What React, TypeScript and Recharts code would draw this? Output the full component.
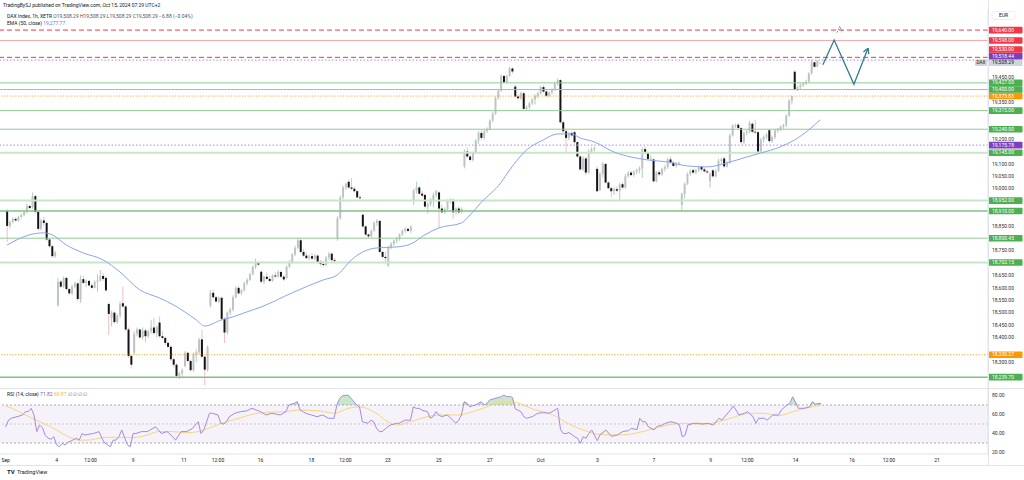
import React from 'react';
import {
  ComposedChart,
  Bar,
  Line,
  Area,
  XAxis,
  YAxis,
  ReferenceLine,
  ReferenceArea,
} from 'recharts';

type Ohlc = [number, number, number, number];

// DAX Index 1h (XETR), open / high / low / close per bar
const sep02to06: Ohlc[] = [
  [18910, 18918, 18785, 18850], [18850, 18872, 18840, 18866], [18866, 18885, 18860, 18878],
  [18878, 18884, 18868, 18872], [18872, 18890, 18866, 18886], [18886, 18900, 18880, 18894],
  [18894, 18912, 18888, 18906], [18906, 18940, 18900, 18930], [18930, 18935, 18918, 18922],
  [18925, 18985, 18920, 18970], [18970, 18975, 18900, 18906], [18906, 18912, 18830, 18838],
  [18838, 18880, 18832, 18872], [18872, 18885, 18850, 18862], [18862, 18868, 18790, 18795],
  [18795, 18800, 18762, 18768], [18768, 18775, 18722, 18728], [18728, 18750, 18720, 18742],
  [18530, 18640, 18525, 18625], [18625, 18632, 18600, 18605], [18605, 18645, 18598, 18640],
  [18640, 18645, 18590, 18595], [18595, 18600, 18570, 18578], [18578, 18612, 18572, 18605],
  [18605, 18625, 18598, 18618], [18618, 18622, 18545, 18555], [18552, 18650, 18540, 18635],
  [18635, 18648, 18615, 18620], [18620, 18634, 18604, 18628], [18628, 18632, 18605, 18610],
  [18610, 18618, 18596, 18600], [18600, 18630, 18598, 18625], [18625, 18655, 18585, 18630],
  [18630, 18672, 18625, 18648], [18648, 18660, 18628, 18636], [18640, 18648, 18585, 18590],
  [18535, 18540, 18410, 18495], [18480, 18508, 18445, 18500], [18500, 18505, 18455, 18462],
  [18462, 18495, 18455, 18488], [18488, 18545, 18480, 18535], [18538, 18605, 18520, 18525],
  [18525, 18530, 18425, 18432], [18432, 18440, 18318, 18325], [18325, 18330, 18275, 18290],
];

const sep09to13: Ohlc[] = [
  [18338, 18425, 18330, 18415], [18415, 18440, 18405, 18432], [18432, 18436, 18395, 18400],
  [18400, 18440, 18392, 18428], [18428, 18436, 18380, 18405], [18405, 18432, 18398, 18425],
  [18425, 18470, 18415, 18440], [18440, 18480, 18410, 18418], [18418, 18448, 18400, 18443],
  [18460, 18485, 18400, 18405], [18405, 18425, 18392, 18398], [18398, 18402, 18370, 18378],
  [18378, 18382, 18358, 18362], [18362, 18368, 18305, 18312], [18312, 18318, 18280, 18290],
  [18290, 18295, 18235, 18245], [18245, 18262, 18232, 18255], [18255, 18275, 18240, 18268],
  [18285, 18345, 18280, 18338], [18338, 18342, 18300, 18305], [18305, 18310, 18262, 18268],
  [18268, 18340, 18262, 18330], [18330, 18352, 18300, 18340], [18340, 18398, 18330, 18392],
  [18392, 18432, 18318, 18322], [18322, 18330, 18208, 18270], [18270, 18368, 18262, 18360],
  [18528, 18590, 18520, 18580], [18580, 18592, 18556, 18562], [18562, 18568, 18540, 18545],
  [18545, 18566, 18538, 18560], [18560, 18565, 18468, 18475], [18475, 18480, 18378, 18420],
  [18420, 18505, 18412, 18500], [18500, 18520, 18490, 18512], [18512, 18570, 18505, 18562],
  [18562, 18606, 18558, 18600], [18600, 18606, 18572, 18578], [18578, 18595, 18570, 18590],
  [18590, 18625, 18585, 18618], [18618, 18640, 18610, 18632], [18632, 18660, 18628, 18655],
  [18655, 18690, 18650, 18685], [18685, 18718, 18676, 18700], [18700, 18706, 18688, 18694],
];

const sep16to20: Ohlc[] = [
  [18665, 18670, 18618, 18625], [18625, 18650, 18615, 18645], [18645, 18662, 18630, 18636],
  [18636, 18648, 18622, 18628], [18628, 18655, 18625, 18650], [18650, 18665, 18640, 18646],
  [18646, 18672, 18640, 18664], [18664, 18670, 18640, 18645], [18645, 18652, 18628, 18634],
  [18640, 18690, 18636, 18685], [18685, 18712, 18680, 18705], [18705, 18740, 18698, 18735],
  [18735, 18770, 18728, 18762], [18762, 18800, 18755, 18792], [18792, 18802, 18740, 18745],
  [18745, 18758, 18725, 18730], [18730, 18742, 18715, 18720], [18720, 18735, 18712, 18726],
  [18728, 18740, 18712, 18718], [18718, 18736, 18712, 18730], [18730, 18734, 18700, 18705],
  [18705, 18712, 18690, 18696], [18696, 18710, 18685, 18692], [18692, 18728, 18688, 18722],
  [18722, 18745, 18712, 18738], [18738, 18742, 18705, 18712], [18712, 18722, 18698, 18711],
  [18800, 18890, 18790, 18880], [18880, 18972, 18875, 18965], [18965, 19012, 18958, 19005],
  [19005, 19025, 18995, 19020], [19028, 19036, 19000, 19005], [19005, 19043, 18995, 19000],
  [19000, 19008, 18985, 18990], [18990, 18995, 18960, 18965], [18965, 18975, 18950, 18962],
  [18895, 18900, 18842, 18848], [18848, 18852, 18810, 18815], [18815, 18820, 18800, 18808],
  [18808, 18836, 18804, 18830], [18830, 18868, 18826, 18862], [18862, 18878, 18850, 18870],
  [18870, 18875, 18740, 18745], [18745, 18750, 18718, 18725], [18725, 18745, 18700, 18720],
];

const sep23to27: Ohlc[] = [
  [18690, 18770, 18684, 18762], [18762, 18785, 18755, 18778], [18778, 18795, 18768, 18790],
  [18790, 18805, 18780, 18798], [18798, 18820, 18790, 18815], [18815, 18836, 18810, 18830],
  [18830, 18845, 18822, 18838], [18838, 18842, 18825, 18830], [18830, 18852, 18822, 18846],
  [18955, 19000, 18935, 18992], [18992, 19028, 18980, 19005], [19005, 19010, 18975, 18980],
  [18980, 18992, 18966, 18972], [18975, 18980, 18920, 18928], [18928, 18945, 18900, 18938],
  [18938, 18962, 18930, 18955], [18955, 18985, 18925, 18975], [18975, 18995, 18965, 18990],
  [18985, 18990, 18842, 18920], [18920, 18935, 18900, 18905], [18905, 18925, 18898, 18918],
  [18918, 18958, 18912, 18950], [18950, 18962, 18940, 18955], [18955, 18960, 18880, 18905],
  [18905, 18925, 18895, 18920], [18920, 18930, 18898, 18905], [18905, 18925, 18900, 18918],
  [19090, 19160, 19082, 19150], [19150, 19168, 19125, 19130], [19130, 19138, 19110, 19116],
  [19116, 19150, 19110, 19145], [19145, 19200, 19140, 19195], [19195, 19232, 19180, 19225],
  [19225, 19235, 19195, 19205], [19205, 19240, 19198, 19232], [19232, 19248, 19225, 19238],
  [19240, 19280, 19235, 19275], [19275, 19310, 19268, 19302], [19302, 19372, 19298, 19365],
  [19365, 19400, 19360, 19395], [19395, 19462, 19390, 19455], [19455, 19460, 19425, 19430],
  [19430, 19460, 19425, 19455], [19455, 19492, 19450, 19485], [19485, 19490, 19465, 19473],
];

const sep30toOct04: Ohlc[] = [
  [19412, 19420, 19368, 19372], [19372, 19380, 19360, 19365], [19365, 19392, 19358, 19385],
  [19385, 19390, 19318, 19322], [19322, 19336, 19315, 19330], [19330, 19350, 19320, 19345],
  [19345, 19365, 19338, 19360], [19360, 19382, 19340, 19375], [19375, 19392, 19365, 19385],
  [19385, 19415, 19380, 19410], [19410, 19418, 19388, 19392], [19392, 19398, 19370, 19375],
  [19375, 19392, 19368, 19388], [19388, 19405, 19380, 19400], [19400, 19432, 19395, 19425],
  [19425, 19445, 19415, 19438], [19438, 19442, 19262, 19268], [19268, 19275, 19225, 19232],
  [19232, 19240, 19145, 19205],
  [19205, 19230, 19195, 19225], [19225, 19232, 19208, 19215], [19228, 19235, 19182, 19188],
  [19188, 19192, 19125, 19130], [19130, 19135, 19072, 19078], [19078, 19130, 19072, 19122],
  [19122, 19128, 19055, 19065], [19065, 19160, 19060, 19150], [19150, 19168, 19140, 19158],
  [19158, 19170, 19150, 19164],
  [19080, 19090, 18985, 18990], [18995, 19068, 18990, 19060], [19060, 19108, 19045, 19100],
  [19100, 19102, 19020, 19025], [19025, 19030, 18998, 19002], [19002, 19008, 18965, 18990],
  [18990, 19005, 18975, 18998], [18998, 19010, 18985, 18992], [18992, 19025, 18955, 19018],
  [19018, 19024, 19000, 19005],
  [19005, 19060, 19000, 19050], [19050, 19070, 19045, 19065], [19065, 19072, 19050, 19055],
  [19055, 19075, 19048, 19068], [19068, 19080, 19058, 19075], [19075, 19090, 19062, 19082],
  [19082, 19168, 19043, 19160], [19160, 19172, 19138, 19145], [19145, 19150, 19115, 19120],
  [19120, 19135, 19112, 19121],
];

const oct07to11: Ohlc[] = [
  [19118, 19122, 19025, 19030], [19030, 19070, 19025, 19066], [19066, 19075, 19052, 19058],
  [19058, 19085, 19052, 19080], [19080, 19095, 19070, 19088], [19088, 19125, 19080, 19118],
  [19118, 19130, 19100, 19105], [19105, 19112, 19088, 19092], [19092, 19108, 19085, 19100],
  [19100, 19110, 19094, 19104],
  [18935, 18985, 18910, 18978], [18978, 19025, 18960, 19020], [19020, 19065, 19015, 19060],
  [19060, 19078, 19052, 19072], [19075, 19082, 19060, 19065], [19065, 19080, 19058, 19075],
  [19075, 19092, 19068, 19088], [19088, 19094, 19070, 19078], [19078, 19085, 19065, 19070],
  [19070, 19075, 19060, 19066],
  [19030, 19066, 19005, 19060], [19074, 19080, 19045, 19050], [19050, 19080, 19045, 19072],
  [19072, 19120, 19068, 19112], [19112, 19125, 19100, 19118], [19122, 19128, 19085, 19090],
  [19090, 19110, 19085, 19105], [19105, 19220, 19100, 19215], [19215, 19260, 19210, 19255],
  [19255, 19262, 19245, 19258],
  [19258, 19265, 19240, 19245], [19245, 19250, 19180, 19188], [19188, 19232, 19178, 19225],
  [19225, 19238, 19215, 19230], [19230, 19275, 19225, 19265], [19262, 19268, 19225, 19230],
  [19230, 19278, 19222, 19228], [19228, 19232, 19145, 19150], [19150, 19205, 19145, 19198],
  [19198, 19215, 19185, 19210],
  [19210, 19225, 19200, 19218], [19236, 19240, 19185, 19192], [19192, 19215, 19185, 19208],
  [19208, 19240, 19200, 19235], [19235, 19245, 19225, 19240], [19240, 19255, 19232, 19250],
  [19250, 19262, 19242, 19256], [19256, 19300, 19248, 19295], [19295, 19362, 19290, 19355],
  [19355, 19375, 19340, 19373.83],
];

const oct14: Ohlc[] = [
  [19472, 19478, 19396, 19400], [19400, 19415, 19394, 19410], [19410, 19425, 19402, 19418],
  [19418, 19430, 19410, 19425], [19425, 19440, 19418, 19432], [19432, 19470, 19428, 19465],
  [19465, 19520, 19460, 19510], [19510, 19514, 19488, 19492], [19492, 19518, 19490, 19515.17],
  [19508.29, 19508.29, 19508.29, 19508.29],
];

// EMA(50) readings: [bar, value]
const emaPoints: [number, number][] = [
  [0, 18773], [8, 18814], [13, 18822], [16, 18814], [21, 18773], [27, 18741], [34, 18713],
  [40, 18664], [47, 18592], [54, 18559], [59, 18531], [67, 18471], [70, 18446], [76, 18471],
  [80, 18483], [85, 18503], [90, 18523], [101, 18580], [112, 18632], [117, 18652], [122, 18713],
  [126, 18745], [131, 18761], [138, 18765], [143, 18777], [148, 18814], [153, 18842], [161, 18862],
  [164, 18894], [168, 18945], [175, 19025], [178, 19075], [184, 19156], [190, 19197], [195, 19221],
  [200, 19221], [203, 19205], [208, 19189], [215, 19148], [221, 19128], [227, 19116], [234, 19108],
  [241, 19092], [248, 19088], [255, 19104], [262, 19128], [267, 19144], [274, 19169], [279, 19197],
  [284, 19237], [288, 19277.77],
];

// RSI(14) readings: [bar, value]
const rsiPoints: [number, number][] = [
  [0, 47], [1, 54], [2, 56], [4, 57.7], [6, 59.5], [7, 63], [8, 63], [9, 66.5], [10, 59.5],
  [11, 42], [12, 49], [13, 46], [14, 38], [15, 35], [16, 34], [17, 36.6], [18, 28], [19, 26],
  [20, 29.7], [21, 28], [22, 30.7], [23, 32], [25, 35], [26, 33], [27, 40], [28, 38.4], [29, 39],
  [31, 40], [33, 42], [34, 35], [35, 30], [36, 28], [37, 26], [38, 33], [39, 33], [40, 36.6],
  [41, 43.7], [42, 36], [43, 28], [44, 26], [45, 40], [46, 40], [48, 42], [50, 42], [52, 45.4],
  [53, 47], [55, 40], [57, 42], [59, 36.6], [60, 33], [62, 42], [64, 42], [66, 45.4], [68, 52.4],
  [69, 40], [70, 43.7], [72, 61.3], [73, 61.3], [75, 59.5], [76, 50.7], [77, 50], [78, 52.4],
  [79, 57.7], [81, 61.3], [83, 63], [85, 63.7], [87, 66.5], [90, 63], [92, 59.5], [94, 61.3],
  [97, 59.5], [99, 63], [100, 70], [102, 71.8], [103, 73.5], [104, 64.7], [106, 61.3], [108, 59.5],
  [110, 57.7], [112, 59.5], [114, 56], [116, 56], [117, 70], [118, 77], [119, 79.8], [121, 80.5],
  [122, 77], [123, 73.5], [124, 70], [125, 68], [126, 52.4], [128, 50.7], [129, 54], [130, 52.4],
  [131, 45.4], [132, 42], [133, 42], [135, 47.2], [136, 49], [138, 50.7], [139, 50.7], [141, 54],
  [143, 54], [144, 68], [145, 66.5], [146, 66.5], [147, 64.7], [149, 63], [150, 56], [151, 57.7],
  [152, 63], [153, 59.5], [154, 57.7], [156, 59.5], [158, 54], [159, 50.7], [160, 54], [161, 59.5],
  [162, 73.5], [163, 71.8], [164, 68], [165, 69.3], [166, 70], [168, 73.5], [169, 70], [170, 71.8],
  [171, 75.3], [173, 77], [175, 78.7], [176, 80.5], [177, 78.7], [178, 79], [179, 78], [180, 66],
  [182, 63], [183, 57.7], [184, 56], [186, 57.7], [188, 61.3], [190, 62], [192, 61.3], [193, 63],
  [195, 66.5], [196, 44], [197, 40], [198, 40], [199, 41], [201, 36.6], [202, 35], [203, 29.7],
  [204, 36.6], [205, 35], [206, 40], [207, 43.7], [209, 32.4], [210, 39], [211, 41], [212, 43.7],
  [214, 37], [216, 38.4], [218, 42], [220, 43], [221, 45.4], [223, 44], [224, 56], [225, 52.4],
  [226, 52.4], [227, 47.2], [229, 43.7], [230, 47.2], [232, 49], [233, 50.7], [235, 52.4],
  [237, 50.7], [238, 49], [239, 36.6], [240, 38], [241, 49], [243, 50.7], [245, 50.7], [246, 50],
  [248, 50.7], [250, 49], [252, 56], [253, 54], [256, 64.7], [257, 69], [258, 64.7], [259, 59.5],
  [261, 61.3], [262, 63], [264, 57.7], [265, 50.7], [266, 56], [268, 56], [269, 54], [271, 59.5],
  [273, 59.5], [274, 64.7], [276, 70], [277, 71.8], [278, 78.7], [280, 66.5], [282, 66.5],
  [284, 68], [285, 73.5], [286, 71], [288, 71.82],
];

// RSI-based MA readings: [bar, value]
const rsiMaPoints: [number, number][] = [
  [0, 69], [2, 66.8], [7, 59.5], [12, 52.4], [16, 47], [21, 38.4], [26, 33], [29, 33], [33, 35],
  [37, 36], [41, 36], [45, 35.6], [50, 38.4], [54, 42], [59, 42], [64, 40.8], [68, 42], [73, 47],
  [78, 52.4], [83, 56.6], [87, 60.2], [92, 62.3], [99, 63], [104, 64.7], [111, 63.7], [116, 61.3],
  [121, 66.5], [125, 68], [130, 63], [135, 52.4], [138, 49], [143, 52.4], [149, 57.7], [154, 59.5],
  [160, 59.5], [165, 63], [170, 68], [175, 72.8], [179, 73], [187, 65], [193, 60], [199, 50],
  [204, 43.7], [210, 39], [216, 38.4], [222, 40], [228, 44.4], [234, 49], [240, 50.7], [246, 49.6],
  [252, 52.4], [257, 57], [263, 61.3], [268, 61.3], [273, 58.7], [278, 63], [284, 67.5],
  [288, 69.87],
];

// drawn projection path and the dashed marker near its top
const projection: [number, number][] = [[289, 19500], [293, 19600], [300, 19421], [305, 19567]];
const projectionAlt: [number, number][] = [[294, 19630], [295, 19655], [296, 19630]];

// horizontal levels: [price, kind]
const levels: [number, string][] = [
  [19640, 'targetDash'], [19598, 'target'], [19530, 'targetDash'], [19518.44, 'pivot'],
  [19427, 'support'], [19400, 'support'], [19373.83, 'prevClose'], [19315, 'support'],
  [19240, 'support'], [19175.78, 'pivot'], [19145, 'supportSoft'], [18952, 'supportSoft'],
  [18910, 'supportStrong'], [18800.45, 'support'], [18702.15, 'supportSoft'],
  [18330.27, 'prevClose'], [18239.7, 'supportStrong'],
];

const timeTicks: [number, string][] = [
  [0, 'Sep'], [18, '4'], [30, '12:00'], [45, '9'], [63, '11'], [75, '12:00'], [90, '16'],
  [108, '18'], [120, '12:00'], [135, '23'], [153, '25'], [171, '27'], [189, 'Oct'], [209, '3'],
  [229, '7'], [249, '9'], [262, '12:00'], [279, '14'], [299, '16'], [312, '12:00'], [329, '21'],
];

const priceTicks = [
  18250, 18300, 18350, 18400, 18450, 18500, 18550, 18600, 18650, 18700, 18750, 18800, 18850,
  18900, 18950, 19000, 19050, 19100, 19150, 19200, 19250, 19300, 19350, 19400, 19450, 19500,
  19550, 19600, 19650,
];
const rsiTicks = [20, 40, 60, 80];

const lastClose = 19508.29;

// ---- layout / style ----
const FONT = 'Roboto, "Liberation Sans", sans-serif';
const LEAD = 2;
const TOTAL = 350;
const MAIN_H = 388;
const MAIN_TOP = 10;
const PRICE_DOMAIN: [number, number] = [18196, 19721];
const RSI_DOMAIN: [number, number] = [18.4, 87.9];
const TAG_H = 6.6;

const levelStyle: Record<string, any> = {
  targetDash: { stroke: '#f23645', width: 1, dash: '5 3', tag: '#f23645' },
  target: { stroke: '#f7a9ae', width: 1, dash: undefined, tag: '#f23645' },
  pivot: { stroke: '#b9a3e3', width: 1.2, dash: '1.5 2', tag: '#7e3fbf' },
  prevClose: { stroke: '#ffa726', width: 1, dash: '1.2 1.6', tag: '#ff9800' },
  support: { stroke: '#8fcb93', width: 1, dash: undefined, tag: '#4caf50' },
  supportSoft: { stroke: '#c6e6c8', width: 2, dash: undefined, tag: '#4caf50' },
  supportStrong: { stroke: '#7cc480', width: 1.5, dash: undefined, tag: '#4caf50' },
};

const fmt2 = (v: number) =>
  v.toLocaleString('en-US', { minimumFractionDigits: 2, maximumFractionDigits: 2 });

const candles: Ohlc[] = [
  ...sep02to06, ...sep09to13, ...sep16to20, ...sep23to27, ...sep30toOct04, ...oct07to11, ...oct14,
];
const emaMap = new Map(emaPoints);
const rsiMap = new Map(rsiPoints);
const rsiMaMap = new Map(rsiMaPoints);
const projMap = new Map(projection);
const projAltMap = new Map(projectionAlt);
const timeTickMap = new Map(timeTicks.map(([d, t]) => [d + LEAD, t] as [number, string]));
const lastProjBar = projection[projection.length - 1][0];

const rows = Array.from({ length: TOTAL }, (_, slot) => {
  const d = slot - LEAD;
  const c = d >= 0 ? candles[d] : undefined;
  const rsi = rsiMap.get(d);
  return {
    slot,
    bar: d,
    candle: c ?? null,
    range: c ? [c[2], c[1]] : null,
    ema: emaMap.get(d) ?? null,
    rsi: rsi ?? null,
    rsiMa: rsiMaMap.get(d) ?? null,
    ob: rsi == null ? null : [70, Math.max(70, rsi)],
    proj: projMap.get(d) ?? null,
    projAlt: projAltMap.get(d) ?? null,
  };
});

// push overlapping price tags apart, like the price scale does
const pricePerPx = (PRICE_DOMAIN[1] - PRICE_DOMAIN[0]) / (MAIN_H - MAIN_TOP);
const tagItems = [
  ...levels.map(([p, k]) => ({ price: p, kind: k })),
  { price: lastClose, kind: 'last' },
].sort((a, b) => a.price - b.price);
let prevTag = -Infinity;
const tags = tagItems.map((t) => {
  const at = Math.max(t.price, prevTag + TAG_H * pricePerPx);
  prevTag = at;
  return { ...t, at };
});
// scale labels hidden behind a tag are not drawn
const tickClearance = (TAG_H / 2 + 2.1) * pricePerPx;
const visiblePriceTicks = priceTicks.filter((v) =>
  tags.every((t) => Math.abs(v - t.at) > tickClearance),
);

function Candle(props: any) {
  const { x, y, width, height, payload } = props;
  const c = payload && payload.candle;
  if (!c) return null;
  const [o, h, l, cl] = c;
  const top = Math.min(y, y + height);
  const span = Math.abs(height);
  const cx = x + width / 2;
  const k = h > l ? span / (h - l) : 0;
  const yOf = (v: number) => top + (h - v) * k;
  const up = cl >= o;
  const bodyTop = yOf(Math.max(o, cl));
  const bodyH = Math.max(0.8, Math.abs(yOf(o) - yOf(cl)));
  return (
    <g>
      <line x1={cx} x2={cx} y1={top} y2={top + Math.max(span, 0.8)} stroke={up ? '#86c38a' : '#e9a2a7'} strokeWidth={0.7} />
      <rect x={cx - 1} y={bodyTop} width={2} height={bodyH} fill={up ? '#bfc2ca' : '#121417'} />
    </g>
  );
}

function PriceTag(props: any) {
  const { viewBox, bg, text } = props;
  if (!viewBox) return null;
  const x = viewBox.x + viewBox.width;
  const y = viewBox.y;
  return (
    <g>
      <rect x={x + 0.5} y={y - TAG_H / 2} width={34} height={TAG_H} fill={bg} rx={0.8} />
      <text x={x + 4} y={y + 0.2} fontSize={5} fill="#ffffff" dominantBaseline="middle" fontFamily={FONT}>
        {text}
      </text>
    </g>
  );
}

function LastTag(props: any) {
  const { viewBox, text } = props;
  if (!viewBox) return null;
  const x = viewBox.x + viewBox.width;
  const y = viewBox.y;
  return (
    <g>
      <rect x={x - 13} y={y - TAG_H / 2} width={12} height={TAG_H} fill="#d1d4dc" rx={0.8} />
      <text x={x - 7} y={y + 0.2} fontSize={4.6} fill="#131722" textAnchor="middle" dominantBaseline="middle" fontFamily={FONT}>
        DAX
      </text>
      <rect x={x + 0.5} y={y - TAG_H / 2} width={34} height={TAG_H} fill="#d1d4dc" rx={0.8} />
      <text x={x + 4} y={y + 0.2} fontSize={5} fill="#131722" dominantBaseline="middle" fontFamily={FONT}>
        {text}
      </text>
    </g>
  );
}

function ArrowDot(props: any) {
  const { cx, cy, payload } = props;
  if (!payload || payload.bar !== lastProjBar || cx == null) return <g />;
  const ang = Math.atan2(-36, 14);
  const len = 6;
  const a1 = ang + Math.PI - 0.5;
  const a2 = ang + Math.PI + 0.5;
  return (
    <g>
      <line x1={cx} y1={cy} x2={cx + len * Math.cos(a1)} y2={cy + len * Math.sin(a1)} stroke="#2f7f8c" strokeWidth={1.3} />
      <line x1={cx} y1={cy} x2={cx + len * Math.cos(a2)} y2={cy + len * Math.sin(a2)} stroke="#2f7f8c" strokeWidth={1.3} />
    </g>
  );
}

function TimeTick(props: any) {
  const { x, y, payload } = props;
  const label = timeTickMap.get(payload.value);
  if (!label) return <g />;
  return (
    <text x={x} y={y + 5.5} fontSize={5} fill="#131722" textAnchor="middle" fontFamily={FONT}>
      {label}
    </text>
  );
}

function Overlay() {
  return (
    <svg
      width={1024}
      height={480}
      style={{ position: 'absolute', left: 0, top: 0, pointerEvents: 'none' }}
      fontFamily={FONT}
    >
      <line x1={988.5} y1={0} x2={988.5} y2={466} stroke="#e0e3eb" />
      <line x1={0} y1={388.5} x2={1024} y2={388.5} stroke="#e0e3eb" />
      <line x1={0} y1={465.5} x2={1024} y2={465.5} stroke="#e0e3eb" />
      <text x={3} y={6.6} fontSize={5} fill="#131722">
        TradingBySJ published on TradingView.com, Oct 15, 2024 07:29 UTC+2
      </text>
      <text x={7} y={17.6} fontSize={5} fill="#131722">
        DAX Index, 1h, XETR
        <tspan fill="#50535e"> O19,508.29 H19,508.29 L19,508.29 C19,508.29 −6.88 (−0.04%)</tspan>
      </text>
      <text x={7} y={25.2} fontSize={5} fill="#131722">
        EMA (50, close) <tspan fill="#5b7cf2">19,277.77</tspan>
      </text>
      <rect x={992} y={11.5} width={23} height={8} rx={2} fill="#ffffff" stroke="#e0e3eb" strokeWidth={0.6} />
      <text x={1003.5} y={17.3} fontSize={5} fill="#131722" textAnchor="middle">EUR</text>
      <text x={7} y={396.4} fontSize={5} fill="#131722">
        RSI (14, close) <tspan fill="#7e57c2">71.82</tspan> <tspan fill="#f2b84b">69.87</tspan>
        <tspan fill="#787b86"> ∅ ∅ ∅ ∅</tspan>
      </text>
      <text x={7} y={474} fontSize={6} fontWeight={700} fill="#131722">TV</text>
      <text x={17} y={474} fontSize={5.5} fill="#131722">TradingView</text>
    </svg>
  );
}

export default function App() {
  return (
    <div
      style={{
        position: 'absolute',
        left: 0,
        top: 0,
        width: 1024,
        height: 480,
        background: '#ffffff',
        fontFamily: FONT,
      }}
    >
      <div style={{ position: 'absolute', left: 0, top: 0 }}>
        <ComposedChart
          width={1024}
          height={MAIN_H}
          data={rows}
          margin={{ top: MAIN_TOP, right: 0, bottom: 0, left: 0 }}
          barCategoryGap={0}
        >
          <XAxis dataKey="slot" hide />
          <YAxis
            orientation="right"
            width={36}
            domain={PRICE_DOMAIN}
            ticks={visiblePriceTicks}
            allowDataOverflow
            tickFormatter={fmt2}
            tick={{ fontSize: 5, fill: '#2a2e39', fontFamily: FONT }}
            tickLine={false}
            tickSize={0}
            tickMargin={4}
            axisLine={{ stroke: '#e0e3eb' }}
          />
          {levels.map(([p, k]) => (
            <ReferenceLine
              key={`lv-${p}`}
              y={p}
              stroke={levelStyle[k].stroke}
              strokeWidth={levelStyle[k].width}
              strokeDasharray={levelStyle[k].dash}
            />
          ))}
          <Bar dataKey="range" shape={<Candle />} isAnimationActive={false} />
          <Line
            type="monotone"
            dataKey="ema"
            stroke="#8aa4f4"
            strokeWidth={1}
            dot={false}
            connectNulls
            isAnimationActive={false}
          />
          <Line
            type="linear"
            dataKey="proj"
            stroke="#2f7f8c"
            strokeWidth={1.3}
            dot={<ArrowDot />}
            connectNulls
            isAnimationActive={false}
          />
          <Line
            type="linear"
            dataKey="projAlt"
            stroke="#2f7f8c"
            strokeWidth={0.9}
            strokeDasharray="1.5 1.2"
            dot={false}
            connectNulls
            isAnimationActive={false}
          />
          {tags.map((t) => (
            <ReferenceLine
              key={`tag-${t.price}`}
              y={t.at}
              stroke="none"
              label={
                t.kind === 'last' ? (
                  <LastTag text={fmt2(t.price)} />
                ) : (
                  <PriceTag bg={levelStyle[t.kind].tag} text={fmt2(t.price)} />
                )
              }
            />
          ))}
        </ComposedChart>
      </div>
      <div style={{ position: 'absolute', left: 0, top: MAIN_H }}>
        <ComposedChart
          width={1024}
          height={78}
          data={rows}
          margin={{ top: 0, right: 0, bottom: 0, left: 0 }}
        >
          <XAxis
            dataKey="slot"
            interval={0}
            height={12}
            tick={<TimeTick />}
            tickLine={false}
            tickSize={0}
            axisLine={{ stroke: '#e0e3eb' }}
          />
          <YAxis
            orientation="right"
            width={36}
            domain={RSI_DOMAIN}
            ticks={rsiTicks}
            allowDataOverflow
            tickFormatter={(v: number) => v.toFixed(2)}
            tick={{ fontSize: 5, fill: '#2a2e39', fontFamily: FONT }}
            tickLine={false}
            tickSize={0}
            tickMargin={4}
            axisLine={{ stroke: '#e0e3eb' }}
          />
          <ReferenceArea y1={30} y2={70} fill="#7e57c2" fillOpacity={0.08} stroke="none" />
          <ReferenceLine y={70} stroke="#9598a1" strokeDasharray="2 2" strokeWidth={0.8} />
          <ReferenceLine y={50} stroke="#9598a1" strokeDasharray="2 2" strokeWidth={0.6} strokeOpacity={0.7} />
          <ReferenceLine y={30} stroke="#9598a1" strokeDasharray="2 2" strokeWidth={0.8} />
          <Area
            type="linear"
            dataKey="ob"
            fill="#66bb6a"
            fillOpacity={0.35}
            stroke="none"
            connectNulls
            isAnimationActive={false}
          />
          <Line
            type="monotone"
            dataKey="rsiMa"
            stroke="#f7d57e"
            strokeWidth={1}
            dot={false}
            connectNulls
            isAnimationActive={false}
          />
          <Line
            type="linear"
            dataKey="rsi"
            stroke="#a58be0"
            strokeWidth={1}
            dot={false}
            connectNulls
            isAnimationActive={false}
          />
        </ComposedChart>
      </div>
      <Overlay />
    </div>
  );
}
